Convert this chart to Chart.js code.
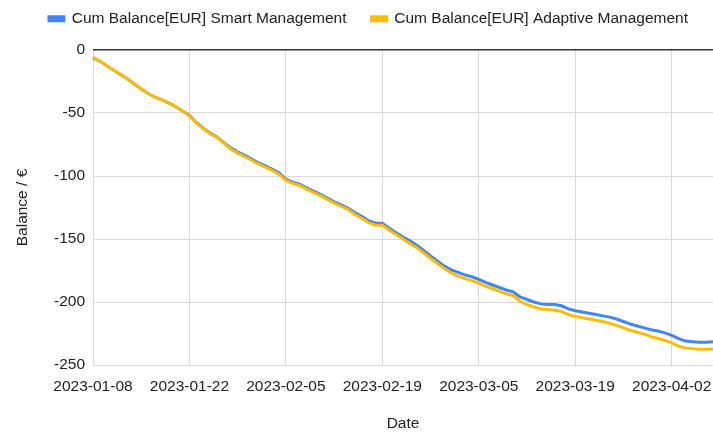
<!DOCTYPE html>
<html lang="en">
<head>
  <meta charset="UTF-8" />
  <title>Cum Balance</title>
  <script src="https://cdn.jsdelivr.net/npm/chart.js"></script>
  <style>
    html, body { margin: 0; padding: 0; background: #fff; }
    #wrap { width: 713px; height: 435px; }
  </style>
</head>
<body>
  <div id="wrap"><canvas id="balanceChart" width="713" height="435"></canvas></div>

  <script>
    // daily points starting 2023-01-08
    const startDate = '2023-01-08';
    const dayCount = 91;

    const smartBalance = [
      -6, -9, -12.5, -16, -19.5, -23, -27, -31, -34.5, -37.5,
      -39.5, -42, -45, -48.5, -52, -57.5, -62, -66, -69, -73.5,
      -77.5, -81, -83.5, -86.5, -89.5, -92, -94.5, -97.5, -102.5, -105,
      -106.5, -109.5, -112, -114.5, -117.5, -120.5, -123, -125.5, -129, -132,
      -135.5, -137.5, -137.5, -141.5, -145, -148.5, -151.5, -155, -159, -163.5,
      -167.5, -171.5, -174.5, -176.5, -178.5, -180, -182, -184.5, -186.5, -188.5,
      -190.5, -192, -196, -198, -200, -201.5, -202, -202, -203, -205.5,
      -207, -208, -209, -210, -211, -212, -213.5, -215.5, -217.5, -219,
      -220.5, -222, -223, -224.5, -226.5, -229, -231, -231.5, -232, -232,
      -231.5
    ];

    const adaptiveBalance = [
      -6, -9, -12.5, -16, -19.5, -23, -27, -31, -34.5, -37.5,
      -39.5, -42, -45, -48.5, -52.5, -58, -62.5, -66.5, -69.5, -74,
      -78.5, -82, -84.5, -87.5, -90.5, -93, -95.5, -98.5, -103.5, -106,
      -107.5, -110.5, -113, -115.5, -118.5, -121.5, -124, -126.5, -130.5, -133.5,
      -137, -139, -139, -143, -146.5, -150, -153.5, -157, -161, -165.5,
      -169.5, -173.5, -177, -179.5, -181.5, -183, -185, -187.5, -189.5, -191.5,
      -193.5, -195, -199.5, -202, -204, -205.5, -206, -206.5, -207.5, -210,
      -211.5, -212.5, -213.5, -214.5, -215.5, -217, -218.5, -220.5, -222.5, -224,
      -225.5, -227.5, -229, -230.5, -232.5, -235, -236.5, -237, -237.5, -237.5,
      -237.3
    ];

    const yTicks = [0, -50, -100, -150, -200, -250];

    // build date labels
    const dates = [];
    const d0 = new Date(startDate + 'T00:00:00Z');
    for (let i = 0; i < dayCount; i++) {
      const d = new Date(d0.getTime() + i * 86400000);
      dates.push(d.toISOString().slice(0, 10));
    }

    const textColor = '#222';
    const font = { family: 'Arial, "Liberation Sans", sans-serif', size: 15.5 };
    Chart.defaults.font = font;
    Chart.defaults.color = textColor;

    // legend: fixed height so the plot starts at y=50, then nudged into place
    const legendTweak = {
      id: 'legendTweak',
      beforeInit(chart) {
        const origFit = chart.legend.fit;
        chart.legend.fit = function () {
          origFit.call(this);
          this.height = 50;
        };
      },
      afterLayout(chart) {
        chart.legend.left += 12;
        chart.legend.right += 12;
        chart.legend.top -= 14;
        chart.legend.bottom -= 14;
      }
    };

    new Chart(document.getElementById('balanceChart'), {
      type: 'line',
      data: {
        labels: dates,
        datasets: [
          {
            label: 'Cum Balance[EUR] Smart Management',
            data: smartBalance,
            borderColor: '#4285F4',
            backgroundColor: '#4285F4',
            borderWidth: 3,
            pointRadius: 0,
            tension: 0,
            order: 1
          },
          {
            label: 'Cum Balance[EUR] Adaptive Management',
            data: adaptiveBalance,
            borderColor: '#FBBC04',
            backgroundColor: '#FBBC04',
            borderWidth: 3,
            pointRadius: 0,
            tension: 0,
            order: 0
          }
        ]
      },
      options: {
        responsive: false,
        animation: false,
        layout: { padding: 0 },
        plugins: {
          legend: {
            position: 'top',
            labels: {
              boxWidth: 15,
              boxHeight: 4,
              padding: 25,
              sort: (a, b) => a.datasetIndex - b.datasetIndex
            }
          },
          tooltip: { enabled: false }
        },
        scales: {
          x: {
            type: 'category',
            offset: false,
            border: { display: false },
            grid: {
              color: ctx => (ctx.index % 14 === 0 ? '#d9d9d9' : 'rgba(0,0,0,0)'),
              drawTicks: false
            },
            ticks: {
              autoSkip: false,
              maxRotation: 0,
              padding: 12,
              callback: (val, i) => (i % 14 === 0 ? dates[i] : '')
            },
            title: { display: true, text: 'Date', padding: { top: 8, bottom: 2 } },
            afterFit: s => {
              s.height = 70;
              s.paddingLeft = 0;
              s.paddingRight = 0;
            }
          },
          y: {
            min: -250,
            max: 0,
            border: { display: false },
            grid: {
              color: ctx => (ctx.tick && ctx.tick.value === 0 ? '#333' : '#d9d9d9'),
              lineWidth: ctx => (ctx.tick && ctx.tick.value === 0 ? 1.5 : 1),
              drawTicks: false
            },
            afterBuildTicks: s => { s.ticks = yTicks.map(v => ({ value: v })); },
            ticks: { padding: 8 },
            title: { display: true, text: 'Balance / €', padding: { top: 13, bottom: 4 } },
            afterFit: s => { s.width = 93; }
          }
        }
      },
      plugins: [legendTweak]
    });
  </script>
</body>
</html>
